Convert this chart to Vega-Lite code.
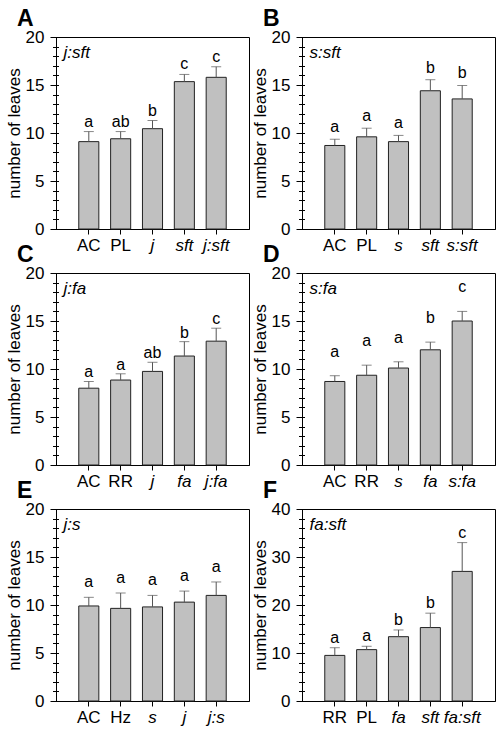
{
  "$schema": "https://vega.github.io/schema/vega-lite/v6.json",
  "background": "white",
  "padding": {"left": 4, "top": 7, "right": 4, "bottom": 4},
  "data": {"values": [
    {"panel": "A", "cat": "AC", "v": 9.1, "hi": 10.15, "sig": "a"},
    {"panel": "A", "cat": "PL", "v": 9.4, "hi": 10.15, "sig": "ab"},
    {"panel": "A", "cat": "j", "v": 10.45, "hi": 11.3, "sig": "b"},
    {"panel": "A", "cat": "sft", "v": 15.35, "hi": 16.1, "sig": "c"},
    {"panel": "A", "cat": "j:sft", "v": 15.8, "hi": 16.9, "sig": "c"},
    {"panel": "B", "cat": "AC", "v": 8.7, "hi": 9.35, "sig": "a"},
    {"panel": "B", "cat": "PL", "v": 9.6, "hi": 10.5, "sig": "a"},
    {"panel": "B", "cat": "s", "v": 9.1, "hi": 9.75, "sig": "a"},
    {"panel": "B", "cat": "sft", "v": 14.4, "hi": 15.55, "sig": "b"},
    {"panel": "B", "cat": "s:sft", "v": 13.55, "hi": 14.95, "sig": "b"},
    {"panel": "C", "cat": "AC", "v": 8.0, "hi": 8.7, "sig": "a"},
    {"panel": "C", "cat": "RR", "v": 8.85, "hi": 9.5, "sig": "a"},
    {"panel": "C", "cat": "j", "v": 9.75, "hi": 10.7, "sig": "ab"},
    {"panel": "C", "cat": "fa", "v": 11.35, "hi": 12.85, "sig": "b"},
    {"panel": "C", "cat": "j:fa", "v": 12.9, "hi": 14.25, "sig": "c"},
    {"panel": "D", "cat": "AC", "v": 8.7, "hi": 9.3, "sig": "a"},
    {"panel": "D", "cat": "RR", "v": 9.35, "hi": 10.4, "sig": "a"},
    {"panel": "D", "cat": "s", "v": 10.1, "hi": 10.75, "sig": "a"},
    {"panel": "D", "cat": "fa", "v": 12.0, "hi": 12.8, "sig": "b"},
    {"panel": "D", "cat": "s:fa", "v": 15.0, "hi": 16.0, "sig": "c"},
    {"panel": "E", "cat": "AC", "v": 9.9, "hi": 10.8, "sig": "a"},
    {"panel": "E", "cat": "Hz", "v": 9.65, "hi": 11.25, "sig": "a"},
    {"panel": "E", "cat": "s", "v": 9.8, "hi": 11.0, "sig": "a"},
    {"panel": "E", "cat": "j", "v": 10.3, "hi": 11.45, "sig": "a"},
    {"panel": "E", "cat": "j:s", "v": 11.0, "hi": 12.4, "sig": "a"},
    {"panel": "F", "cat": "RR", "v": 9.5, "hi": 11.1, "sig": "a"},
    {"panel": "F", "cat": "PL", "v": 10.7, "hi": 11.4, "sig": "a"},
    {"panel": "F", "cat": "fa", "v": 13.4, "hi": 14.8, "sig": "b"},
    {"panel": "F", "cat": "sft", "v": 15.3, "hi": 18.3, "sig": "b"},
    {"panel": "F", "cat": "fa:sft", "v": 27.0, "hi": 33.0, "sig": "c"}
  ]},
  "columns": 2,
  "bounds": "flush",
  "spacing": {"row": 44, "column": 53},
  "concat": [
    {
      "width": 193, "height": 192,
      "title": {"text": "A"},
      "transform": [{"filter": "datum.panel == 'A'"}],
      "encoding": {"x": {"field": "cat", "type": "nominal", "sort": null, "scale": {"paddingInner": 0.37, "paddingOuter": 0.715}, "axis": {"title": "j:sft"}}},
      "layer": [
        {"mark": {"type": "bar", "fill": "#c0c0c0", "stroke": "#222", "strokeWidth": 1}, "encoding": {"y": {"field": "v", "type": "quantitative", "scale": {"domain": [0, 20]}, "axis": {"orient": "left", "values": [0, 5, 10, 15, 20], "title": "number of leaves"}}}},
        {"mark": {"type": "rule", "color": "#555"}, "encoding": {"y": {"field": "v", "type": "quantitative", "axis": {"orient": "left", "values": [0,1,2,3,4,5,6,7,8,9,10,11,12,13,14,15,16,17,18,19,20], "labels": false, "title": null, "domain": false, "tickSize": 6, "offset": -2.5, "grid": false}}, "y2": {"field": "hi"}}},
        {"mark": {"type": "tick", "color": "#555", "size": 10, "thickness": 1}, "encoding": {"y": {"field": "hi", "type": "quantitative", "axis": null}}},
        {"mark": {"type": "text", "dy": -5, "baseline": "alphabetic", "fontSize": 16, "font": "Liberation Sans", "color": "black"}, "encoding": {"y": {"field": "hi", "type": "quantitative", "axis": null}, "text": {"field": "sig"}}}
      ],
      "resolve": {"axis": {"y": "independent"}}
    },
    {
      "width": 193, "height": 192,
      "title": {"text": "B"},
      "transform": [{"filter": "datum.panel == 'B'"}],
      "encoding": {"x": {"field": "cat", "type": "nominal", "sort": null, "scale": {"paddingInner": 0.37, "paddingOuter": 0.715}, "axis": {"title": "s:sft"}}},
      "layer": [
        {"mark": {"type": "bar", "fill": "#c0c0c0", "stroke": "#222", "strokeWidth": 1}, "encoding": {"y": {"field": "v", "type": "quantitative", "scale": {"domain": [0, 20]}, "axis": {"orient": "left", "values": [0, 5, 10, 15, 20], "title": "number of leaves"}}}},
        {"mark": {"type": "rule", "color": "#555"}, "encoding": {"y": {"field": "v", "type": "quantitative", "axis": {"orient": "left", "values": [0,1,2,3,4,5,6,7,8,9,10,11,12,13,14,15,16,17,18,19,20], "labels": false, "title": null, "domain": false, "tickSize": 6, "offset": -2.5, "grid": false}}, "y2": {"field": "hi"}}},
        {"mark": {"type": "tick", "color": "#555", "size": 10, "thickness": 1}, "encoding": {"y": {"field": "hi", "type": "quantitative", "axis": null}}},
        {"mark": {"type": "text", "dy": -7, "baseline": "alphabetic", "fontSize": 16, "font": "Liberation Sans", "color": "black"}, "encoding": {"y": {"field": "hi", "type": "quantitative", "axis": null}, "text": {"field": "sig"}}}
      ],
      "resolve": {"axis": {"y": "independent"}}
    },
    {
      "width": 193, "height": 192,
      "title": {"text": "C"},
      "transform": [{"filter": "datum.panel == 'C'"}],
      "encoding": {"x": {"field": "cat", "type": "nominal", "sort": null, "scale": {"paddingInner": 0.37, "paddingOuter": 0.715}, "axis": {"title": "j:fa"}}},
      "layer": [
        {"mark": {"type": "bar", "fill": "#c0c0c0", "stroke": "#222", "strokeWidth": 1}, "encoding": {"y": {"field": "v", "type": "quantitative", "scale": {"domain": [0, 20]}, "axis": {"orient": "left", "values": [0, 5, 10, 15, 20], "title": "number of leaves"}}}},
        {"mark": {"type": "rule", "color": "#555"}, "encoding": {"y": {"field": "v", "type": "quantitative", "axis": {"orient": "left", "values": [0,1,2,3,4,5,6,7,8,9,10,11,12,13,14,15,16,17,18,19,20], "labels": false, "title": null, "domain": false, "tickSize": 6, "offset": -2.5, "grid": false}}, "y2": {"field": "hi"}}},
        {"mark": {"type": "tick", "color": "#555", "size": 10, "thickness": 1}, "encoding": {"y": {"field": "hi", "type": "quantitative", "axis": null}}},
        {"mark": {"type": "text", "dy": -4, "baseline": "alphabetic", "fontSize": 16, "font": "Liberation Sans", "color": "black"}, "encoding": {"y": {"field": "hi", "type": "quantitative", "axis": null}, "text": {"field": "sig"}}}
      ],
      "resolve": {"axis": {"y": "independent"}}
    },
    {
      "width": 193, "height": 192,
      "title": {"text": "D"},
      "transform": [{"filter": "datum.panel == 'D'"}],
      "encoding": {"x": {"field": "cat", "type": "nominal", "sort": null, "scale": {"paddingInner": 0.37, "paddingOuter": 0.715}, "axis": {"title": "s:fa"}}},
      "layer": [
        {"mark": {"type": "bar", "fill": "#c0c0c0", "stroke": "#222", "strokeWidth": 1}, "encoding": {"y": {"field": "v", "type": "quantitative", "scale": {"domain": [0, 20]}, "axis": {"orient": "left", "values": [0, 5, 10, 15, 20], "title": "number of leaves"}}}},
        {"mark": {"type": "rule", "color": "#555"}, "encoding": {"y": {"field": "v", "type": "quantitative", "axis": {"orient": "left", "values": [0,1,2,3,4,5,6,7,8,9,10,11,12,13,14,15,16,17,18,19,20], "labels": false, "title": null, "domain": false, "tickSize": 6, "offset": -2.5, "grid": false}}, "y2": {"field": "hi"}}},
        {"mark": {"type": "tick", "color": "#555", "size": 10, "thickness": 1}, "encoding": {"y": {"field": "hi", "type": "quantitative", "axis": null}}},
        {"mark": {"type": "text", "dy": -19, "baseline": "alphabetic", "fontSize": 16, "font": "Liberation Sans", "color": "black"}, "encoding": {"y": {"field": "hi", "type": "quantitative", "axis": null}, "text": {"field": "sig"}}}
      ],
      "resolve": {"axis": {"y": "independent"}}
    },
    {
      "width": 193, "height": 192,
      "title": {"text": "E"},
      "transform": [{"filter": "datum.panel == 'E'"}],
      "encoding": {"x": {"field": "cat", "type": "nominal", "sort": null, "scale": {"paddingInner": 0.37, "paddingOuter": 0.715}, "axis": {"title": "j:s"}}},
      "layer": [
        {"mark": {"type": "bar", "fill": "#c0c0c0", "stroke": "#222", "strokeWidth": 1}, "encoding": {"y": {"field": "v", "type": "quantitative", "scale": {"domain": [0, 20]}, "axis": {"orient": "left", "values": [0, 5, 10, 15, 20], "title": "number of leaves"}}}},
        {"mark": {"type": "rule", "color": "#555"}, "encoding": {"y": {"field": "v", "type": "quantitative", "axis": {"orient": "left", "values": [0,1,2,3,4,5,6,7,8,9,10,11,12,13,14,15,16,17,18,19,20], "labels": false, "title": null, "domain": false, "tickSize": 6, "offset": -2.5, "grid": false}}, "y2": {"field": "hi"}}},
        {"mark": {"type": "tick", "color": "#555", "size": 10, "thickness": 1}, "encoding": {"y": {"field": "hi", "type": "quantitative", "axis": null}}},
        {"mark": {"type": "text", "dy": -10, "baseline": "alphabetic", "fontSize": 16, "font": "Liberation Sans", "color": "black"}, "encoding": {"y": {"field": "hi", "type": "quantitative", "axis": null}, "text": {"field": "sig"}}}
      ],
      "resolve": {"axis": {"y": "independent"}}
    },
    {
      "width": 193, "height": 192,
      "title": {"text": "F"},
      "transform": [{"filter": "datum.panel == 'F'"}],
      "encoding": {"x": {"field": "cat", "type": "nominal", "sort": null, "scale": {"paddingInner": 0.37, "paddingOuter": 0.715}, "axis": {"title": "fa:sft"}}},
      "layer": [
        {"mark": {"type": "bar", "fill": "#c0c0c0", "stroke": "#222", "strokeWidth": 1}, "encoding": {"y": {"field": "v", "type": "quantitative", "scale": {"domain": [0, 40]}, "axis": {"orient": "left", "values": [0, 10, 20, 30, 40], "title": "number of leaves"}}}},
        {"mark": {"type": "rule", "color": "#555"}, "encoding": {"y": {"field": "v", "type": "quantitative", "axis": {"orient": "left", "values": [0,2,4,6,8,10,12,14,16,18,20,22,24,26,28,30,32,34,36,38,40], "labels": false, "title": null, "domain": false, "tickSize": 6, "offset": -2.5, "grid": false}}, "y2": {"field": "hi"}}},
        {"mark": {"type": "tick", "color": "#555", "size": 10, "thickness": 1}, "encoding": {"y": {"field": "hi", "type": "quantitative", "axis": null}}},
        {"mark": {"type": "text", "dy": -5, "baseline": "alphabetic", "fontSize": 16, "font": "Liberation Sans", "color": "black"}, "encoding": {"y": {"field": "hi", "type": "quantitative", "axis": null}, "text": {"field": "sig"}}}
      ],
      "resolve": {"axis": {"y": "independent"}}
    }
  ],
  "config": {
    "font": "Liberation Sans",
    "view": {"stroke": "black", "strokeWidth": 1},
    "title": {"anchor": "start", "frame": "group", "dx": -39, "fontSize": 23, "fontWeight": "bold", "font": "Liberation Sans", "color": "black", "offset": -3, "baseline": "alphabetic"},
    "axis": {"grid": false, "domainColor": "black", "tickColor": "black", "labelColor": "black", "titleColor": "black", "labelFont": "Liberation Sans", "titleFont": "Liberation Sans", "labelFontSize": 17, "titleFontSize": 17, "titleFontWeight": "normal"},
    "axisY": {"tickSize": 6, "labelPadding": 6, "titlePadding": 2},
    "axisX": {"labelAngle": 0, "tickSize": 5, "labelPadding": 3,
      "labelFontStyle": {"condition": {"test": "indexof(['AC','PL','RR','Hz'], datum.value) >= 0", "value": "normal"}, "value": "italic"},
      "titleFontStyle": "italic", "titleAnchor": "start", "titleAlign": "left", "titleBaseline": "middle", "titleX": 7, "titleY": -177}
  }
}
